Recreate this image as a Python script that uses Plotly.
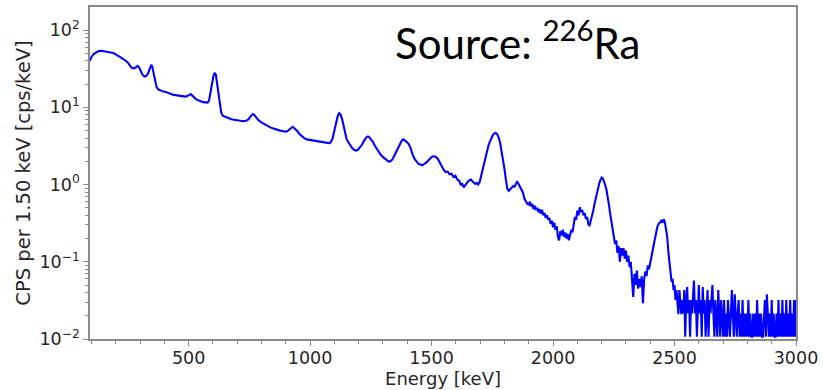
import plotly.graph_objects as go

# ---- Segment A: smooth low/mid-energy part (keV, cps/keV) ----
energy_a = [94, 100, 110, 120, 130, 140, 150, 160, 170, 180, 190, 200, 210, 220, 230, 240, 250, 258, 266, 274,
            282, 290, 296, 302, 310, 318, 326, 334, 340, 346, 350, 356, 362, 368, 376, 386, 396, 406, 416, 426,
            436, 446, 456, 466, 476, 486, 494, 502, 508, 514, 522, 530, 540, 550, 560, 570, 578, 584, 590, 596,
            602, 607, 612, 617, 622, 628, 634, 640, 648, 656, 666, 676, 686, 696, 706, 716, 726, 736, 746, 756,
            764, 770, 778, 786, 796, 806, 816, 826, 836, 846, 856, 866, 876, 886, 896, 906, 914, 922, 928, 934,
            940, 948, 956, 966, 976, 986, 996, 1006, 1016, 1026, 1036, 1046, 1056, 1066, 1076, 1084, 1092, 1100, 1108, 1114,
            1120, 1126, 1132, 1138, 1144, 1150, 1158, 1166, 1174, 1182, 1190, 1198, 1206, 1214, 1222, 1230, 1238, 1244, 1250, 1258,
            1266, 1274, 1282, 1290, 1298, 1306, 1314, 1322, 1330, 1338, 1346, 1354, 1362, 1370, 1378, 1384, 1390, 1398, 1406, 1414,
            1422, 1430, 1438, 1446, 1454, 1462, 1470, 1478, 1486, 1494, 1502, 1510, 1518, 1526, 1534, 1542, 1550, 1558, 1566, 1574,
            1582, 1590, 1598, 1606, 1614, 1620, 1626, 1632, 1638, 1644, 1650, 1656, 1662, 1668, 1674, 1680, 1686, 1692, 1698, 1704,
            1710, 1716, 1722, 1728, 1734, 1740, 1746, 1752, 1758, 1764, 1770, 1776, 1782, 1788, 1794, 1800, 1806, 1812, 1818, 1824,
            1830, 1836, 1842, 1848, 1852, 1858, 1864, 1870, 1876, 1882, 1888, 1894]
cps_a = [40, 45, 49.5, 52, 53.5, 54, 53.5, 53, 52, 51.5, 50.5, 48.5, 46, 44, 42.5, 40.5, 38, 35, 32.5, 32,
         32.8, 34.5, 33, 30, 26.5, 25, 25.5, 28, 32, 35.5, 34, 27, 21, 18.3, 17, 16.4, 16, 15.8, 15.3, 15,
         14.6, 14.4, 14.2, 14, 13.9, 13.8, 14, 14.6, 14.9, 14.3, 13.3, 12.8, 12.4, 12, 11.7, 11.6, 11.5, 12.2, 15, 20,
         25.5, 28, 26.5, 21, 15.5, 11, 8.6, 7.8, 7.6, 7.4, 7.2, 7.0, 6.9, 6.8, 6.7, 6.6, 6.6, 6.7, 7.0, 7.7,
         8.2, 8.0, 7.4, 6.9, 6.5, 6.2, 5.9, 5.7, 5.5, 5.35, 5.2, 5.1, 5.0, 4.95, 4.85, 4.9, 5.2, 5.5, 5.6, 5.4,
         5.2, 4.9, 4.5, 4.2, 4.0, 3.85, 3.8, 3.75, 3.7, 3.65, 3.6, 3.6, 3.55, 3.5, 3.45, 3.5, 3.9, 5.0, 6.5, 7.8,
         8.4, 8.0, 7.0, 5.6, 4.5, 3.9, 3.5, 3.2, 2.95, 2.8, 2.75, 2.85, 3.05, 3.3, 3.7, 4.05, 4.2, 4.1, 3.85, 3.6,
         3.2, 2.9, 2.65, 2.45, 2.3, 2.2, 2.1, 2.0, 2.0, 2.1, 2.35, 2.65, 3.05, 3.45, 3.75, 3.85, 3.75, 3.55, 3.35, 2.95,
         2.45, 2.15, 2.0, 1.85, 1.82, 1.78, 1.86, 1.92, 2.05, 2.2, 2.3, 2.33, 2.28, 2.15, 1.9, 1.68, 1.55, 1.45, 1.48, 1.36,
         1.38, 1.26, 1.3, 1.16, 1.12, 1.0, 1.02, 0.92, 0.98, 1.07, 1.1, 1.14, 1.16, 1.1, 1.06, 1.02, 1.05, 1.0, 1.08, 1.3,
         1.65, 2.0, 2.4, 2.75, 3.2, 3.6, 4.0, 4.35, 4.6, 4.66, 4.5, 4.1, 3.5, 2.8, 2.15, 1.6, 1.15, 0.88, 0.83, 0.87,
         0.9, 0.96, 0.94, 1.08, 1.1, 1.02, 0.93, 0.86, 0.79, 0.66, 0.61, 0.56]

# ---- Segment B: 1900-2475 keV, 5 keV bins ----
energy_b = list(range(1900, 2476, 5))
cps_b = [0.55, 0.60, 0.52, 0.56, 0.48, 0.53, 0.47, 0.50, 0.44, 0.48,
         0.42, 0.47, 0.40, 0.43, 0.37, 0.40, 0.35, 0.37, 0.31, 0.34,
         0.28, 0.32, 0.26, 0.29, 0.21, 0.19, 0.25, 0.22, 0.26, 0.21,
         0.24, 0.20, 0.23, 0.19, 0.22, 0.26, 0.24, 0.31, 0.38, 0.35,
         0.46, 0.40, 0.51, 0.44, 0.47, 0.40, 0.43, 0.36, 0.38, 0.31,
         0.29, 0.34, 0.38, 0.45, 0.55, 0.66, 0.78, 0.90, 1.03, 1.15,
         1.23, 1.20, 1.10, 0.98, 0.85, 0.70, 0.55, 0.42, 0.33, 0.25,
         0.21, 0.17, 0.19, 0.13, 0.16, 0.10, 0.15, 0.12, 0.15, 0.11,
         0.14, 0.10, 0.12, 0.085, 0.10, 0.06, 0.035, 0.07, 0.05, 0.077,
         0.045, 0.06, 0.047, 0.065, 0.029, 0.06, 0.075, 0.065, 0.09, 0.08,
         0.10, 0.12, 0.14, 0.17, 0.20, 0.25, 0.29, 0.31, 0.33, 0.34,
         0.32, 0.355, 0.33, 0.27, 0.21, 0.13]

# ---- Segment C: 2480-3000 keV tail, 4 keV bins ----
energy_c = list(range(2480, 3001, 4))
cps_c = [0.085, 0.07, 0.055, 0.060, 0.043, 0.050, 0.032, 0.043, 0.032, 0.021,
         0.043, 0.032, 0.021, 0.032, 0.0214, 0.043, 0.0107, 0.032, 0.047, 0.0214,
         0.032, 0.0107, 0.032, 0.0214, 0.043, 0.057, 0.0214, 0.032, 0.0107, 0.032,
         0.050, 0.0214, 0.032, 0.0107, 0.047, 0.0214, 0.032, 0.0107, 0.0214, 0.043,
         0.0107, 0.032, 0.0214, 0.032, 0.050, 0.0214, 0.0107, 0.032, 0.0214, 0.0107,
         0.043, 0.0214, 0.0107, 0.032, 0.0214, 0.0107, 0.032, 0.0107, 0.0214, 0.0107,
         0.032, 0.0214, 0.0107, 0.0214, 0.043, 0.0214, 0.0107, 0.038, 0.0214, 0.0107,
         0.0214, 0.032, 0.0107, 0.0214, 0.0107, 0.032, 0.0107, 0.0214, 0.0107, 0.0214,
         0.0107, 0.032, 0.0107, 0.0214, 0.0107, 0.0107, 0.0214, 0.0107, 0.0214, 0.0107,
         0.032, 0.0107, 0.0214, 0.0107, 0.0214, 0.0107, 0.0107, 0.0214, 0.032, 0.0107,
         0.038, 0.0214, 0.0107, 0.0214, 0.0107, 0.032, 0.0107, 0.0214, 0.0107, 0.0107,
         0.0214, 0.0107, 0.032, 0.0107, 0.0214, 0.0107, 0.032, 0.0107, 0.0214, 0.0107,
         0.032, 0.0107, 0.0214, 0.0107, 0.032, 0.0107, 0.0214, 0.0107, 0.032, 0.0107,
         0.032]

assert len(energy_a) == len(cps_a), (len(energy_a), len(cps_a))
assert len(energy_b) == len(cps_b), (len(energy_b), len(cps_b))
assert len(energy_c) == len(cps_c), (len(energy_c), len(cps_c))

energy = energy_a + energy_b + energy_c
cps = cps_a + cps_b + cps_c

y_tickvals = [0.01, 0.1, 1, 10, 100]
y_ticktext = ["10<sup>\u22122</sup>", "10<sup>\u22121</sup>", "10<sup>0</sup>", "10<sup>1</sup>", "10<sup>2</sup>"]
x_tickvals = [500, 1000, 1500, 2000, 2500, 3000]
x_ticktext = ["500", "1000", "1500", "2000", "2500", "3000"]

y_minor = [m * d for d in (0.01, 0.1, 1, 10, 100) for m in range(2, 10) if m * d < 200]
x_minor = [e for e in range(100, 3001, 100) if e % 500 != 0]

axis_color = "#8a8a8a"
text_color = "#262626"
tick_font = dict(family="DejaVu Sans", size=17.5, color=text_color)

fig = go.Figure()
fig.add_trace(go.Scatter(x=energy, y=cps, mode="lines",
                         line=dict(color="#0000ff", width=2.1), showlegend=False))

fig.update_layout(
    width=823, height=390,
    margin=dict(l=90, r=26, t=5, b=51),
    paper_bgcolor="white", plot_bgcolor="white",
    xaxis=dict(
        range=[94, 3000], showgrid=False, zeroline=False,
        showline=True, mirror=True, linecolor=axis_color, linewidth=1.5,
        ticks="outside", ticklen=5, tickwidth=1.2, tickcolor=axis_color,
        tickmode="array", tickvals=x_tickvals, ticktext=x_ticktext,
        tickfont=tick_font, ticklabelstandoff=-3,
        minor=dict(tickmode="array", tickvals=x_minor, ticks="outside", ticklen=3,
                   tickwidth=1, tickcolor=axis_color, showgrid=False),
        title=dict(text="Energy [keV]", font=dict(family="DejaVu Sans", size=18, color=text_color), standoff=0),
    ),
    yaxis=dict(
        type="log", range=[-2, 2.3], showgrid=False, zeroline=False,
        showline=True, mirror=True, linecolor=axis_color, linewidth=1.5,
        ticks="outside", ticklen=5, tickwidth=1.2, tickcolor=axis_color,
        tickmode="array", tickvals=y_tickvals, ticktext=y_ticktext,
        tickfont=tick_font,
        minor=dict(tickmode="array", tickvals=y_minor, ticks="outside", ticklen=3,
                   tickwidth=1, tickcolor=axis_color, showgrid=False),
        title=dict(text="CPS per 1.50 keV [cps/keV]", font=dict(family="DejaVu Sans", size=19.5, color=text_color), standoff=4),
    ),
    annotations=[dict(
        text="Source: <sup>226</sup>Ra", xref="paper", yref="paper",
        x=0.605, y=0.9, xanchor="center", yanchor="middle", showarrow=False,
        font=dict(family="Lato", size=42, color="black"),
    )],
)

fig.write_html("out.html", config={"displayModeBar": False},
               post_script="document.body.style.margin='0';document.body.style.overflow='hidden';")
